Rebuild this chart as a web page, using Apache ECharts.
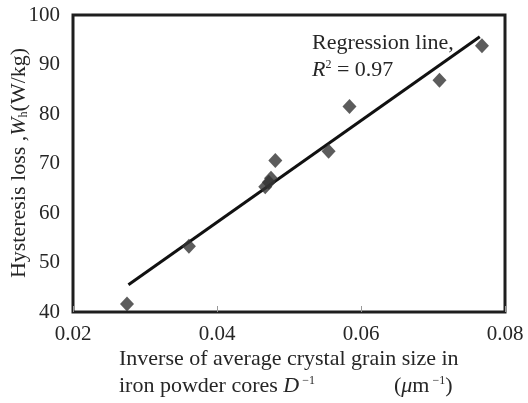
<!DOCTYPE html>
<html>
<head>
<meta charset="utf-8">
<script src="https://cdn.jsdelivr.net/npm/echarts@6/dist/echarts.min.js"></script>
<style>
html, body { margin: 0; padding: 0; background: #fff; }
#chart { width: 528px; height: 403px; }
</style>
</head>
<body>
<div id="chart"></div>
<script>
// measured points: inverse grain size (1/um) vs hysteresis loss (W/kg)
var invGrain = [0.0275, 0.0361, 0.0467, 0.0472, 0.0475, 0.0481, 0.0555, 0.0584, 0.0709, 0.0768];
var lossWh   = [41.6,   53.3,   65.3,   66.2,   67.0,   70.6,   72.5,   81.5,   86.8,   93.8];
// regression line end points
var fitX = [0.0277, 0.0765];
var fitY = [45.5, 95.6];
var xTicks = [0.02, 0.04, 0.06, 0.08];
var yTicks = [40, 50, 60, 70, 80, 90, 100];

var serif = '"Liberation Serif", "DejaVu Serif", serif';
var txt = '#262626';

var myChart = echarts.init(document.getElementById('chart'));
var pts = invGrain.map(function (x, i) { return [x, lossWh[i]]; });
var fit = fitX.map(function (x, i) { return [x, fitY[i]]; });

option = {
    animation: false,
    grid: {
        left: 73, right: 23, top: 15, bottom: 91,
        show: true,
        borderColor: '#1e1e1e',
        borderWidth: 3
    },
    xAxis: {
        type: 'value',
        min: xTicks[0], max: xTicks[xTicks.length - 1], interval: 0.02,
        axisLine: { show: false },
        axisTick: { show: true, inside: true, length: 6, lineStyle: { color: '#999' } },
        splitLine: { show: false },
        axisLabel: {
            margin: 12, color: txt, fontFamily: serif, fontSize: 21,
            formatter: function (v) { return v.toFixed(2); }
        }
    },
    yAxis: {
        type: 'value',
        min: yTicks[0], max: yTicks[yTicks.length - 1], interval: 10,
        axisLine: { show: false },
        axisTick: { show: false },
        splitLine: { show: false },
        axisLabel: { margin: 13, color: txt, fontFamily: serif, fontSize: 21 }
    },
    series: [
        {
            type: 'line',
            data: fit,
            symbol: 'none',
            lineStyle: { color: '#111', width: 3 },
            z: 3
        },
        {
            type: 'scatter',
            data: pts,
            symbol: 'diamond',
            symbolSize: [14, 15],
            itemStyle: { color: '#333' },
            z: 4
        }
    ],
    graphic: [
        {
            type: 'text', left: 312, top: 32,
            style: { text: 'Regression line,', font: '22px ' + serif, fill: txt }
        },
        {
            type: 'text', left: 312, top: 59,
            style: {
                text: '{i|R}{s|2}{n| = 0.97}',
                fill: txt,
                rich: {
                    i: { fontFamily: serif, fontSize: 22, fontStyle: 'italic', fill: txt },
                    s: { fontFamily: serif, fontSize: 12, verticalAlign: 'top', fill: txt },
                    n: { fontFamily: serif, fontSize: 22, fill: txt }
                }
            }
        },
        {
            type: 'text', x: 19, y: 163, rotation: Math.PI / 2,
            style: {
                text: '{n|Hysteresis loss ,}{i|W}{s|h}{n|(W/kg)}',
                align: 'center', verticalAlign: 'middle',
                fill: txt,
                rich: {
                    n: { fontFamily: serif, fontSize: 22, fill: txt },
                    i: { fontFamily: serif, fontSize: 22, fontStyle: 'italic', fill: txt },
                    s: { fontFamily: serif, fontSize: 12, verticalAlign: 'bottom', fill: txt }
                }
            }
        },
        {
            type: 'text', left: 119, top: 348,
            style: { text: 'Inverse of average crystal grain size in', font: '22px ' + serif, fill: txt }
        },
        {
            type: 'text', left: 119, top: 375,
            style: {
                text: '{n|iron powder cores }{i|D}{s| \u22121}',
                fill: txt,
                rich: {
                    n: { fontFamily: serif, fontSize: 22, fill: txt },
                    i: { fontFamily: serif, fontSize: 22, fontStyle: 'italic', fill: txt },
                    s: { fontFamily: serif, fontSize: 12, verticalAlign: 'top', fill: txt }
                }
            }
        },
        {
            type: 'text', left: 394, top: 375,
            style: {
                text: '{n|(}{i|\u03bc}{n|m}{s| \u22121}{n|)}',
                fill: txt,
                rich: {
                    n: { fontFamily: serif, fontSize: 22, fill: txt },
                    i: { fontFamily: serif, fontSize: 22, fontStyle: 'italic', fill: txt },
                    s: { fontFamily: serif, fontSize: 12, verticalAlign: 'top', fill: txt }
                }
            }
        }
    ]
};
myChart.setOption(option);
</script>
</body>
</html>
